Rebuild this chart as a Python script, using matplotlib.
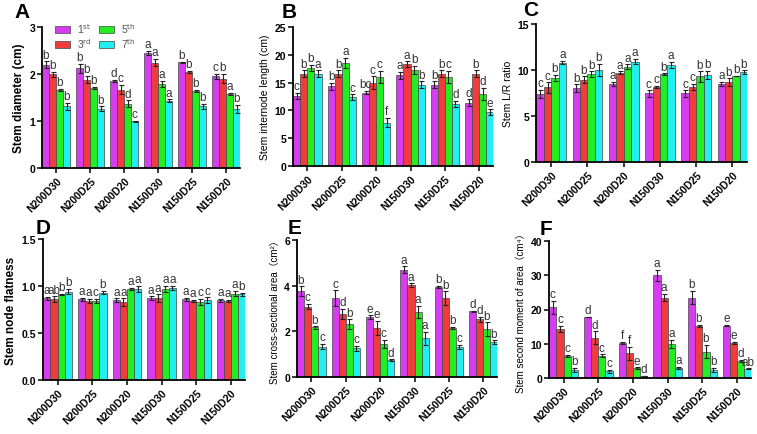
import numpy as np
import matplotlib
matplotlib.use('Agg')
import matplotlib.pyplot as plt
from matplotlib.patches import Patch

plt.rcParams['font.family'] = ['Liberation Sans', 'Noto Sans CJK SC', 'DejaVu Sans']

groups = ['N200D30', 'N200D25', 'N200D20', 'N150D30', 'N150D25', 'N150D20']
series = ['1$^{\\rm st}$', '3$^{\\rm rd}$', '5$^{\\rm th}$', '7$^{\\rm th}$']
colors = ['#D63CF0', '#F03C3C', '#22EE22', '#22F0F0']

# each row = group, columns = 1st, 3rd, 5th, 7th
diam = [[2.20, 1.99, 1.66, 1.31], [2.12, 1.88, 1.70, 1.26], [1.85, 1.67, 1.37, 0.99],
        [2.45, 2.24, 1.79, 1.43], [2.25, 2.04, 1.64, 1.31], [1.95, 1.90, 1.58, 1.26]]
diam_err = [[0.07, 0.05, 0.02, 0.07], [0.10, 0.08, 0.02, 0.05], [0.03, 0.10, 0.07, 0.01],
            [0.05, 0.08, 0.07, 0.03], [0.01, 0.02, 0.02, 0.06], [0.05, 0.10, 0.02, 0.08]]
diam_let = [['b', 'b', 'b', 'b'], ['b', 'b', 'b', 'b'], ['d', 'c', 'd', 'c'],
            ['a', 'a', 'a', 'a'], ['b', 'b', 'b', 'b'], ['c', 'b', 'a', 'b']]

inter = [[12.6, 16.6, 17.6, 16.6], [14.3, 16.6, 18.5, 12.4], [13.2, 15.0, 16.0, 7.8],
         [16.3, 18.3, 17.3, 14.6], [14.6, 16.6, 16.0, 11.2], [11.4, 16.6, 13.0, 9.7]]
inter_err = [[0.6, 0.6, 0.6, 0.6], [0.6, 0.6, 0.9, 0.5], [0.3, 1.1, 1.1, 0.8],
             [0.6, 0.5, 0.7, 0.6], [0.6, 0.6, 1.1, 0.5], [0.6, 0.6, 1.1, 0.5]]
inter_let = [['c', 'b', 'b', 'a'], ['b', 'b', 'a', 'c'], ['bc', 'c', 'c', 'f'],
             ['a', 'a', 'b', 'b'], ['b', 'b', 'c', 'd'], ['d', 'b', 'd', 'e']]

lr = [[7.4, 8.1, 9.15, 10.8], [8.05, 8.95, 9.55, 10.0], [8.5, 9.7, 10.35, 10.9],
      [7.45, 8.15, 9.55, 10.55], [7.45, 8.15, 9.3, 9.45], [8.5, 8.7, 9.35, 9.75]]
lr_err = [[0.45, 0.55, 0.3, 0.2], [0.4, 0.35, 0.3, 0.65], [0.2, 0.15, 0.25, 0.3],
          [0.35, 0.15, 0.1, 0.3], [0.35, 0.35, 0.55, 0.45], [0.25, 0.4, 0.05, 0.2]]
lr_let = [['c', 'c', 'b', 'a'], ['b', 'b', 'b', 'b'], ['a', 'a', 'a', 'a'],
          ['c', 'c', 'b', 'a'], ['c', 'c', 'b', 'b'], ['a', 'b', 'b', 'b']]

flat = [[0.87, 0.86, 0.91, 0.94], [0.86, 0.84, 0.84, 0.93], [0.85, 0.83, 0.97, 0.97],
        [0.87, 0.87, 0.97, 0.98], [0.86, 0.84, 0.83, 0.85], [0.85, 0.84, 0.92, 0.91]]
flat_err = [[0.015, 0.03, 0.01, 0.03], [0.015, 0.02, 0.02, 0.02], [0.02, 0.04, 0.01, 0.03],
            [0.02, 0.04, 0.03, 0.02], [0.015, 0.01, 0.03, 0.03], [0.015, 0.01, 0.03, 0.015]]
flat_let = [['a', 'ab', 'b', 'b'], ['a', 'a', 'c', 'b'], ['a', 'a', 'a', 'a'],
            ['a', 'a', 'a', 'a'], ['a', 'a', 'c', 'c'], ['a', 'a', 'a', 'b']]

area = [[3.75, 3.08, 2.17, 1.33], [3.45, 2.78, 2.32, 1.25], [2.62, 2.15, 1.45, 0.75],
        [4.70, 4.02, 2.85, 1.70], [3.93, 3.45, 2.15, 1.32], [2.87, 2.52, 2.10, 1.52]]
area_err = [[0.22, 0.12, 0.05, 0.12], [0.35, 0.22, 0.2, 0.1], [0.08, 0.3, 0.17, 0.03],
            [0.15, 0.08, 0.27, 0.28], [0.05, 0.3, 0.05, 0.1], [0.02, 0.1, 0.3, 0.08]]
area_let = [['b', 'c', 'b', 'c'], ['c', 'd', 'b', 'c'], ['e', 'e', 'c', 'd'],
            ['a', 'a', 'a', 'a'], ['b', 'b', 'b', 'c'], ['d', 'd', 'b', 'b']]

moment = [[20.6, 14.3, 6.5, 2.3], [17.8, 11.8, 6.5, 2.0], [10.2, 7.2, 2.8, 0.6],
          [30.0, 23.5, 10.0, 2.9], [23.5, 15.2, 7.7, 2.4], [15.3, 10.2, 5.0, 2.7]]
moment_err = [[2.0, 1.0, 0.3, 0.6], [0.1, 1.8, 0.4, 0.4], [0.4, 1.8, 0.3, 0.1],
              [1.6, 1.0, 1.2, 0.4], [2.0, 0.3, 2.0, 0.6], [0.2, 0.3, 0.4, 0.1]]
moment_let = [['c', 'c', 'c', 'b'], ['d', 'd', 'c', 'c'], ['f', 'f', 'e', 'd'],
              ['a', 'a', 'a', 'a'], ['b', 'b', 'b', 'b'], ['e', 'e', 'd', 'ab']]

panels = [
    ('A', diam, diam_err, diam_let, 'Stem diameter (cm)', 'bold', 8.5, (0, 3), [0, 1, 2, 3], '{:.0f}',
     [42, 28, 240, 169], (14, 12)),
    ('B', inter, inter_err, inter_let, 'Stem internode length (cm)', 'normal', 7.5, (0, 25),
     [0, 5, 10, 15, 20, 25], '{:.0f}', [293, 28, 493, 167], (282, 13)),
    ('C', lr, lr_err, lr_let, 'Stem L/R ratio', 'normal', 7.5, (0, 15), [0, 5, 10, 15], '{:.0f}',
     [536, 25, 747, 163], (523, 10)),
    ('D', flat, flat_err, flat_let, 'Stem node flatness', 'bold', 8.5, (0, 1.5), [0, 0.5, 1.0, 1.5], '{:.1f}',
     [43, 240, 245, 381], (36, 229)),
    ('E', area, area_err, area_let, 'Stem cross-sectional area\uff08cm\u00b2\uff09', 'normal', 7, (0, 6),
     [0, 2, 4, 6], '{:.0f}', [297, 241, 497, 378], (288, 229)),
    ('F', moment, moment_err, moment_let, 'Stem second moment of area\uff08cm\u2074\uff09', 'normal', 7, (0, 40),
     [0, 10, 20, 30, 40], '{:.0f}', [549, 242, 751, 379], (540, 230)),
]

W, H = 757, 435
fig = plt.figure(figsize=(W / 100, H / 100), dpi=100)

x = np.arange(len(groups))
bw = 0.205
for letter, vals, errs, lets, ylab, ywt, yfs, ylim, yt, yfmt, box, lpos in panels:
    l, t, r, b = box
    ax = fig.add_axes([l / W, 1 - b / H, (r - l) / W, (b - t) / H])
    vals = np.array(vals)
    errs = np.array(errs)
    span = ylim[1] - ylim[0]
    for j in range(4):
        xs = x + (j - 1.5) * bw
        ax.bar(xs, vals[:, j], bw, color=colors[j], edgecolor='#444444', linewidth=0.5, zorder=2)
        ax.errorbar(xs, vals[:, j], yerr=errs[:, j], fmt='none', ecolor='#222222',
                    elinewidth=0.8, capsize=1.8, capthick=0.8, zorder=3)
        for i in range(len(groups)):
            ax.text(xs[i], vals[i, j] + errs[i, j] + span * 0.005, lets[i][j],
                    ha='center', va='bottom', fontsize=8.5, color='#333333')
    ax.set_xlim(-0.42, 5.4)
    ax.set_ylim(*ylim)
    ax.set_yticks(yt)
    ax.set_yticklabels([yfmt.format(v) for v in yt], fontsize=7.5, fontweight='bold')
    ax.set_xticks(x)
    ax.set_xticklabels(groups, rotation=45, ha='right', rotation_mode='anchor',
                       fontsize=7.5, fontweight='bold')
    ax.spines['top'].set_visible(False)
    ax.spines['right'].set_visible(False)
    for s in ['left', 'bottom']:
        ax.spines[s].set_linewidth(1.3)
    ax.tick_params(width=1.1, length=3.5, pad=1.5)
    ax.set_ylabel(ylab, fontsize=yfs, fontweight=ywt, labelpad=3)
    fig.text(lpos[0] / W, 1 - lpos[1] / H, letter, fontsize=15, fontweight='bold',
             ha='left', va='center')
    if letter == 'A':
        handles = [Patch(facecolor=colors[k], edgecolor='#444444', linewidth=0.5) for k in range(4)]
        leg = ax.legend(handles, series, ncol=2, loc='upper left', bbox_to_anchor=(0.03, 1.09),
                        frameon=False, fontsize=7.5, handlelength=1.4, handleheight=0.6,
                        columnspacing=0.7, labelspacing=0.1, handletextpad=0.7,
                        borderpad=0.2)
        for tx in leg.get_texts():
            tx.set_color('#555555')

fig.savefig('out.png', dpi=100)
